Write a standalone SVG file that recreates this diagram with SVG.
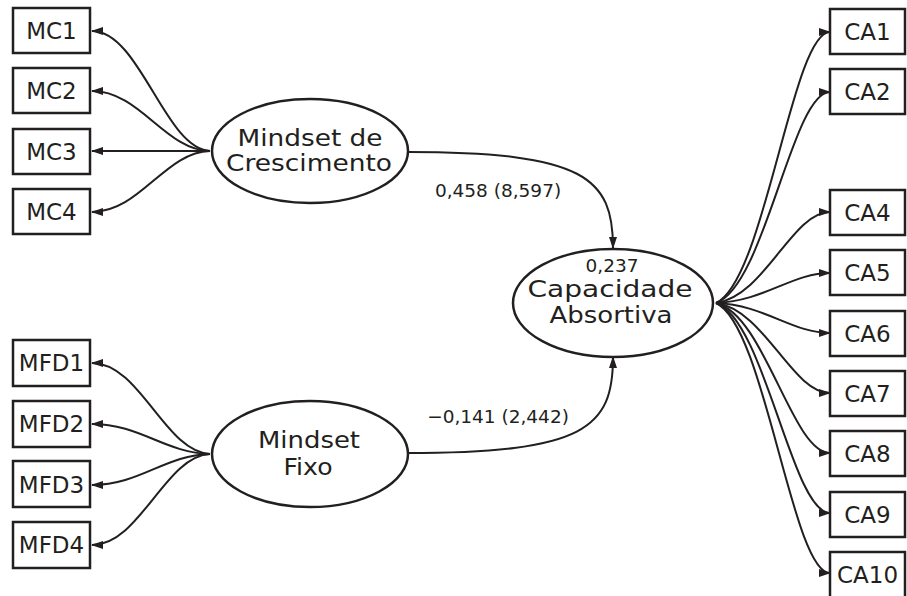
<svg xmlns="http://www.w3.org/2000/svg" width="907" height="596" viewBox="0 0 907 596">
<style>
.box{fill:#fff;stroke:#231f20;stroke-width:2.5}
.ell{fill:#fff;stroke:#231f20;stroke-width:2.5}
.lbl{font-family:"DejaVu Sans","Liberation Sans",sans-serif;font-size:23px;fill:#231f20;text-anchor:middle}
.big{font-family:"DejaVu Sans","Liberation Sans",sans-serif;font-size:23px;fill:#231f20;text-anchor:middle}
.num{font-family:"DejaVu Sans","Liberation Sans",sans-serif;font-size:18.5px;fill:#231f20;text-anchor:middle}
.con path{fill:none;stroke:#231f20;stroke-width:2;marker-end:url(#arr)}
</style>
<defs>
<marker id="arr" markerUnits="userSpaceOnUse" markerWidth="12" markerHeight="8" refX="11" refY="4" orient="auto">
<path d="M0,0 L12,4 L0,8 z" fill="#231f20"/>
</marker>
</defs>
<rect width="907" height="596" fill="#fff"/>
<g id="connectors" class="con">
<path d="M210,151 C165,149 140,31 92,31"/>
<path d="M210,151 C165,150 140,91 92,91"/>
<path d="M210,151 L92,151"/>
<path d="M210,151 C165,152 140,212 92,212"/>
<path d="M210,454 C165,452 140,363 92,363"/>
<path d="M210,454 C165,453 140,424 92,424"/>
<path d="M210,454 C165,455 140,485 92,485"/>
<path d="M210,454 C165,456 140,545 92,545"/>
<path d="M408,152 C585,152 613,178 613,248"/>
<path d="M407,453 C585,453 613,428 613,357"/>
<path d="M716,303 C765,281 792,32 830,32"/>
<path d="M716,303 C765,286 792,92 830,92"/>
<path d="M716,303 C765,296 792,212 830,212"/>
<path d="M716,303 C765,301 792,273 830,273"/>
<path d="M716,303 C765,305 792,333 830,333"/>
<path d="M716,303 C765,310 792,393 830,393"/>
<path d="M716,303 C765,315 792,453 830,453"/>
<path d="M716,303 C765,320 792,513 830,513"/>
<path d="M716,303 C765,325 792,573 830,573"/>
</g>
<g id="MC1"><rect class="box" x="13" y="8" width="77" height="45"/><text class="lbl" x="51.5" y="39">MC1</text></g>
<g id="MC2"><rect class="box" x="13" y="68" width="77" height="45"/><text class="lbl" x="51.5" y="99">MC2</text></g>
<g id="MC3"><rect class="box" x="13" y="129" width="77" height="45"/><text class="lbl" x="51.5" y="160">MC3</text></g>
<g id="MC4"><rect class="box" x="13" y="189" width="77" height="45"/><text class="lbl" x="51.5" y="220">MC4</text></g>
<g id="MFD1"><rect class="box" x="13" y="340" width="77" height="46"/><text class="lbl" x="51.5" y="371">MFD1</text></g>
<g id="MFD2"><rect class="box" x="13" y="401" width="77" height="46"/><text class="lbl" x="51.5" y="432">MFD2</text></g>
<g id="MFD3"><rect class="box" x="13" y="461" width="77" height="46"/><text class="lbl" x="51.5" y="493">MFD3</text></g>
<g id="MFD4"><rect class="box" x="13" y="522" width="77" height="46"/><text class="lbl" x="51.5" y="553">MFD4</text></g>
<g id="CA1"><rect class="box" x="830" y="9" width="75" height="45"/><text class="lbl" x="867.5" y="40">CA1</text></g>
<g id="CA2"><rect class="box" x="830" y="69" width="75" height="45"/><text class="lbl" x="867.5" y="100">CA2</text></g>
<g id="CA4"><rect class="box" x="830" y="190" width="75" height="45"/><text class="lbl" x="867.5" y="221">CA4</text></g>
<g id="CA5"><rect class="box" x="830" y="250" width="75" height="45"/><text class="lbl" x="867.5" y="281">CA5</text></g>
<g id="CA6"><rect class="box" x="830" y="311" width="75" height="45"/><text class="lbl" x="867.5" y="342">CA6</text></g>
<g id="CA7"><rect class="box" x="830" y="371" width="75" height="45"/><text class="lbl" x="867.5" y="402">CA7</text></g>
<g id="CA8"><rect class="box" x="830" y="431" width="75" height="45"/><text class="lbl" x="867.5" y="462">CA8</text></g>
<g id="CA9"><rect class="box" x="830" y="492" width="75" height="45"/><text class="lbl" x="867.5" y="523">CA9</text></g>
<g id="CA10"><rect class="box" x="830" y="552" width="75" height="50"/><text class="lbl" x="867.5" y="583">CA10</text></g>
<g id="MindsetCrescimento"><ellipse class="ell" cx="310" cy="151" rx="98" ry="52"/><text class="big" x="310" y="146" textLength="145" lengthAdjust="spacingAndGlyphs">Mindset de</text><text class="big" x="309" y="171" textLength="166" lengthAdjust="spacingAndGlyphs">Crescimento</text></g>
<g id="MindsetFixo"><ellipse class="ell" cx="310" cy="454" rx="98" ry="53"/><text class="big" x="309" y="448" textLength="102" lengthAdjust="spacingAndGlyphs">Mindset</text><text class="big" x="308" y="475" textLength="49" lengthAdjust="spacingAndGlyphs">Fixo</text></g>
<g id="CapacidadeAbsortiva"><ellipse class="ell" cx="613" cy="303" rx="100" ry="54"/><text class="num" x="612" y="272">0,237</text><text class="big" x="610" y="297" textLength="165" lengthAdjust="spacingAndGlyphs">Capacidade</text><text class="big" x="611" y="323" textLength="123" lengthAdjust="spacingAndGlyphs">Absortiva</text></g>
<g id="labels">
<text class="num" x="498" y="197">0,458 (8,597)</text>
<text class="num" x="498" y="423">−0,141 (2,442)</text>
</g>
</svg>
